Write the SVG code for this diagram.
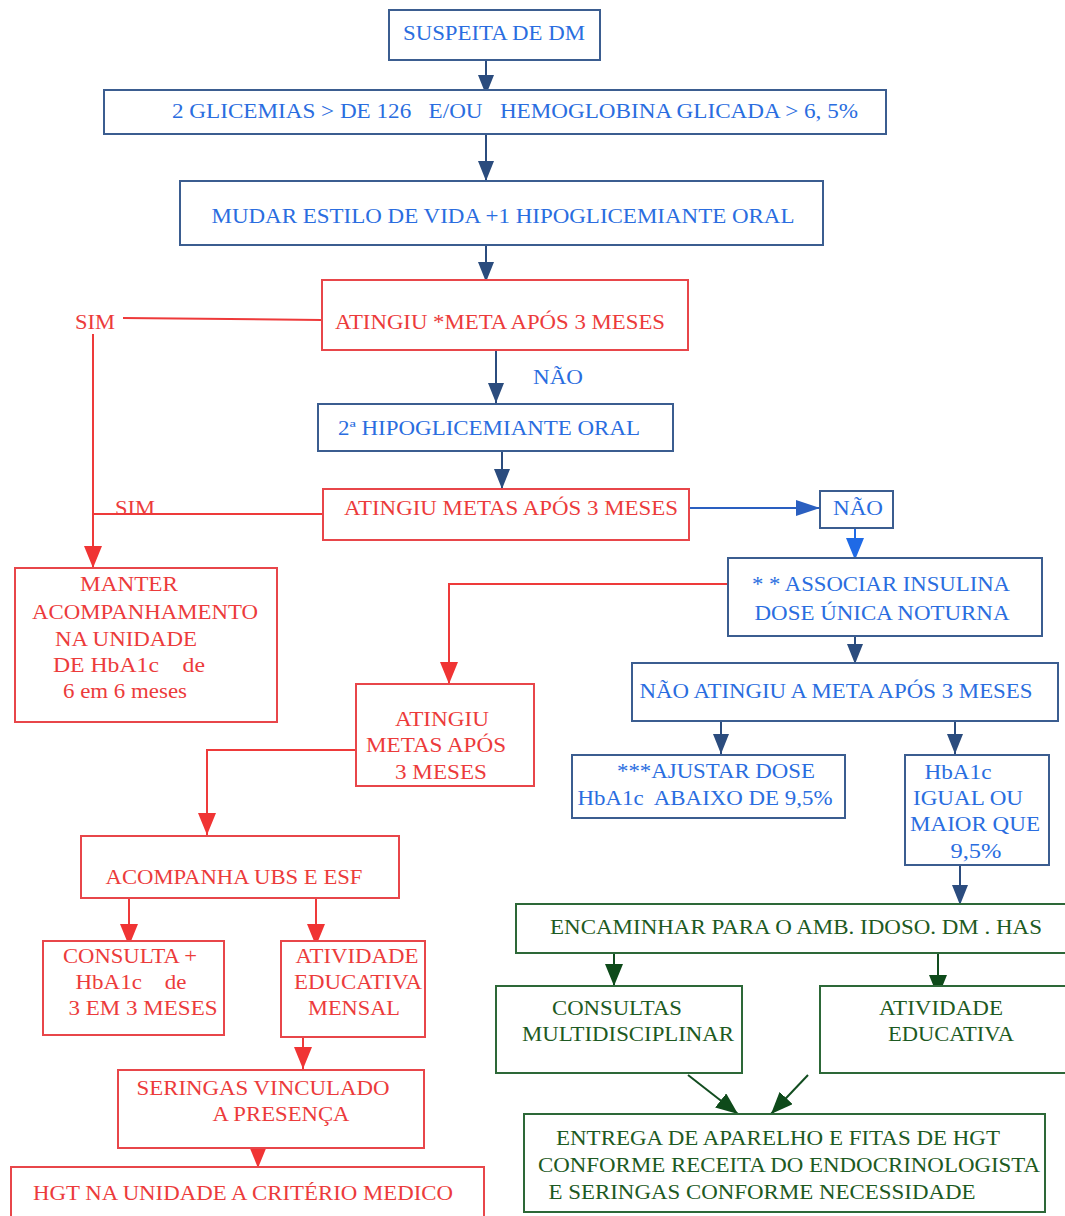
<svg xmlns="http://www.w3.org/2000/svg" width="1065" height="1216" viewBox="0 0 1065 1216">
<style>
text{font-family:'Liberation Serif','Times New Roman',Times,serif;font-size:20px;text-anchor:middle;white-space:pre}
.bt{fill:#2a6de0}
.rt{fill:#ec3b3b}
.gt{fill:#1d5a22}
.bb{fill:#fff;stroke:#3b5d90;stroke-width:2}
.rb{fill:#fff;stroke:#e8464a;stroke-width:2}
.gb{fill:#fff;stroke:#2d6838;stroke-width:2}
.cb{fill:none;stroke:#2b4c7e;stroke-width:2}
.cr{fill:none;stroke:#ee3a3a;stroke-width:2}
.cg{fill:none;stroke:#124d20;stroke-width:2}
.cl{fill:none;stroke:#1f6ae6;stroke-width:2}
</style>
<defs>
<marker id="aB" markerUnits="userSpaceOnUse" markerWidth="20" markerHeight="16" refX="20" refY="8" orient="auto"><path d="M0,0 L20,8 L0,16 Z" fill="#2b4c7e"/></marker>
<marker id="aR" markerUnits="userSpaceOnUse" markerWidth="22" markerHeight="18" refX="22" refY="9" orient="auto"><path d="M0,0 L22,9 L0,18 Z" fill="#f03434"/></marker>
<marker id="aG" markerUnits="userSpaceOnUse" markerWidth="22" markerHeight="18" refX="22" refY="9" orient="auto"><path d="M0,0 L22,9 L0,18 Z" fill="#0e4a1a"/></marker>
<marker id="aL" markerUnits="userSpaceOnUse" markerWidth="22" markerHeight="18" refX="22" refY="9" orient="auto"><path d="M0,0 L22,9 L0,18 Z" fill="#1f6ae6"/></marker>
<marker id="aM" markerUnits="userSpaceOnUse" markerWidth="24" markerHeight="16" refX="24" refY="8" orient="auto"><path d="M0,0 L24,8 L0,16 Z" fill="#2a5fc0"/></marker>
</defs>
<rect width="1065" height="1216" fill="#fff"/>

<g id="connectors">
<path class="cb" d="M486,60 V95" marker-end="url(#aB)"/>
<path class="cb" d="M486,134 V181" marker-end="url(#aB)"/>
<path class="cb" d="M486,245 V282" marker-end="url(#aB)"/>
<path class="cb" d="M496,350 V403" marker-end="url(#aB)"/>
<path class="cb" d="M502,451 V489" marker-end="url(#aB)"/>
<path class="cr" d="M123,318 L322,320"/>
<path class="cr" d="M93,334 V568" marker-end="url(#aR)"/>
<path class="cr" d="M323,514 H93"/>
<path fill="none" stroke="#2a5fc0" stroke-width="2" d="M689,508 H820" marker-end="url(#aM)"/>
<path class="cl" d="M855,528 V560" marker-end="url(#aL)"/>
<path class="cr" d="M728,584 H449 V684" marker-end="url(#aR)"/>
<path class="cb" d="M855,636 V664" marker-end="url(#aB)"/>
<path class="cb" d="M721,721 V754" marker-end="url(#aB)"/>
<path class="cb" d="M955,721 V754" marker-end="url(#aB)"/>
<path class="cb" d="M960,865 V905" marker-end="url(#aB)"/>
<path class="cr" d="M356,750 H207 V835" marker-end="url(#aR)"/>
<path class="cr" d="M129,898 V946" marker-end="url(#aR)"/>
<path class="cr" d="M316,898 V946" marker-end="url(#aR)"/>
<path class="cr" d="M303,1037 V1069" marker-end="url(#aR)"/>
<path class="cr" d="M258,1130 V1168" marker-end="url(#aR)"/>
<path class="cg" d="M614,953 V986" marker-end="url(#aG)"/>
<path class="cg" d="M938,953 V997" marker-end="url(#aG)"/>
<path class="cg" d="M688,1075 L738,1114" marker-end="url(#aG)"/>
<path class="cg" d="M808,1075 L771,1114" marker-end="url(#aG)"/>
</g>

<g id="suspeita"><rect class="bb" x="389" y="10" width="211" height="50"/><text class="bt" x="494" y="40" textLength="182" lengthAdjust="spacingAndGlyphs">SUSPEITA DE DM</text></g>
<g id="glicemias"><rect class="bb" x="104" y="90" width="782" height="44"/><text class="bt" x="515" y="118" textLength="686" lengthAdjust="spacingAndGlyphs">2 GLICEMIAS &gt; DE 126   E/OU   HEMOGLOBINA GLICADA &gt; 6, 5%</text></g>
<g id="mudar"><rect class="bb" x="180" y="181" width="643" height="64"/><text class="bt" x="503" y="223" textLength="583" lengthAdjust="spacingAndGlyphs">MUDAR ESTILO DE VIDA +1 HIPOGLICEMIANTE ORAL</text></g>
<g id="atingiu1"><rect class="rb" x="322" y="280" width="366" height="70"/><text class="rt" x="500" y="329" textLength="330" lengthAdjust="spacingAndGlyphs">ATINGIU *META APÓS 3 MESES</text></g>
<g id="sim1"><text class="rt" x="95" y="329" textLength="40" lengthAdjust="spacingAndGlyphs">SIM</text></g>
<g id="nao1"><text class="bt" x="558" y="384" textLength="50" lengthAdjust="spacingAndGlyphs">NÃO</text></g>
<g id="hipo2"><rect class="bb" x="318" y="404" width="355" height="47"/><text class="bt" x="489" y="435" textLength="302" lengthAdjust="spacingAndGlyphs">2ª HIPOGLICEMIANTE ORAL</text></g>
<g id="atingiu2"><rect class="rb" x="323" y="489" width="366" height="51"/><text class="rt" x="511" y="515" textLength="334" lengthAdjust="spacingAndGlyphs">ATINGIU METAS APÓS 3 MESES</text></g>
<g id="sim2"><text class="rt" x="135" y="515" textLength="40" lengthAdjust="spacingAndGlyphs">SIM</text></g>
<g id="nao2"><rect class="bb" x="820" y="491" width="73" height="37"/><text class="bt" x="858" y="515" textLength="50" lengthAdjust="spacingAndGlyphs">NÃO</text></g>
<g id="insulina"><rect class="bb" x="728" y="558" width="314" height="78"/><text class="bt" x="881" y="591" textLength="258" lengthAdjust="spacingAndGlyphs">* * ASSOCIAR INSULINA</text><text class="bt" x="882" y="620" textLength="255" lengthAdjust="spacingAndGlyphs">DOSE ÚNICA NOTURNA</text></g>
<g id="naoatingiu"><rect class="bb" x="632" y="663" width="426" height="58"/><text class="bt" x="836" y="698" textLength="393" lengthAdjust="spacingAndGlyphs">NÃO ATINGIU A META APÓS 3 MESES</text></g>
<g id="ajustar"><rect class="bb" x="572" y="755" width="273" height="63"/><text class="bt" x="716" y="778" textLength="198" lengthAdjust="spacingAndGlyphs">***AJUSTAR DOSE</text><text class="bt" x="705" y="805" textLength="255" lengthAdjust="spacingAndGlyphs">HbA1c  ABAIXO DE 9,5%</text></g>
<g id="hba1c"><rect class="bb" x="905" y="755" width="144" height="110"/><text class="bt" x="958" y="779" textLength="67" lengthAdjust="spacingAndGlyphs">HbA1c</text><text class="bt" x="968" y="805" textLength="110" lengthAdjust="spacingAndGlyphs">IGUAL OU</text><text class="bt" x="975" y="831" textLength="130" lengthAdjust="spacingAndGlyphs">MAIOR QUE</text><text class="bt" x="976" y="858" textLength="51" lengthAdjust="spacingAndGlyphs">9,5%</text></g>
<g id="manter"><rect class="rb" x="15" y="568" width="262" height="154"/><text class="rt" x="129" y="591" textLength="98" lengthAdjust="spacingAndGlyphs">MANTER</text><text class="rt" x="145" y="619" textLength="226" lengthAdjust="spacingAndGlyphs">ACOMPANHAMENTO</text><text class="rt" x="126" y="646" textLength="142" lengthAdjust="spacingAndGlyphs">NA UNIDADE</text><text class="rt" x="129" y="672" textLength="152" lengthAdjust="spacingAndGlyphs">DE HbA1c    de</text><text class="rt" x="125" y="698" textLength="124" lengthAdjust="spacingAndGlyphs">6 em 6 meses</text></g>
<g id="atingiu3"><rect class="rb" x="356" y="684" width="178" height="102"/><text class="rt" x="442" y="726" textLength="94" lengthAdjust="spacingAndGlyphs">ATINGIU</text><text class="rt" x="436" y="752" textLength="140" lengthAdjust="spacingAndGlyphs">METAS APÓS</text><text class="rt" x="441" y="779" textLength="92" lengthAdjust="spacingAndGlyphs">3 MESES</text></g>
<g id="acompanha"><rect class="rb" x="81" y="836" width="318" height="62"/><text class="rt" x="234" y="884" textLength="257" lengthAdjust="spacingAndGlyphs">ACOMPANHA UBS E ESF</text></g>
<g id="consulta"><rect class="rb" x="43" y="941" width="181" height="94"/><text class="rt" x="130" y="963" textLength="134" lengthAdjust="spacingAndGlyphs">CONSULTA +</text><text class="rt" x="131" y="989" textLength="111" lengthAdjust="spacingAndGlyphs">HbA1c    de</text><text class="rt" x="143" y="1015" textLength="149" lengthAdjust="spacingAndGlyphs">3 EM 3 MESES</text></g>
<g id="atividade1"><rect class="rb" x="281" y="941" width="144" height="96"/><text class="rt" x="357" y="963" textLength="123" lengthAdjust="spacingAndGlyphs">ATIVIDADE</text><text class="rt" x="358" y="989" textLength="128" lengthAdjust="spacingAndGlyphs">EDUCATIVA</text><text class="rt" x="354" y="1015" textLength="92" lengthAdjust="spacingAndGlyphs">MENSAL</text></g>
<g id="seringas"><rect class="rb" x="118" y="1070" width="306" height="78"/><text class="rt" x="263" y="1095" textLength="253" lengthAdjust="spacingAndGlyphs">SERINGAS VINCULADO</text><text class="rt" x="281" y="1121" textLength="137" lengthAdjust="spacingAndGlyphs">A PRESENÇA</text></g>
<g id="hgt"><rect class="rb" x="11" y="1167" width="473" height="60"/><text class="rt" x="243" y="1200" textLength="420" lengthAdjust="spacingAndGlyphs">HGT NA UNIDADE A CRITÉRIO MEDICO</text></g>
<g id="encaminhar"><rect class="gb" x="516" y="904" width="560" height="49"/><text class="gt" x="796" y="934" textLength="492" lengthAdjust="spacingAndGlyphs">ENCAMINHAR PARA O AMB. IDOSO. DM . HAS</text></g>
<g id="consultas"><rect class="gb" x="496" y="986" width="246" height="87"/><text class="gt" x="617" y="1015" textLength="130" lengthAdjust="spacingAndGlyphs">CONSULTAS</text><text class="gt" x="628" y="1041" textLength="212" lengthAdjust="spacingAndGlyphs">MULTIDISCIPLINAR</text></g>
<g id="atividade2"><rect class="gb" x="820" y="986" width="256" height="87"/><text class="gt" x="941" y="1015" textLength="124" lengthAdjust="spacingAndGlyphs">ATIVIDADE</text><text class="gt" x="951" y="1041" textLength="126" lengthAdjust="spacingAndGlyphs">EDUCATIVA</text></g>
<g id="entrega"><rect class="gb" x="524" y="1114" width="521" height="98"/><text class="gt" x="778" y="1145" textLength="444" lengthAdjust="spacingAndGlyphs">ENTREGA DE APARELHO E FITAS DE HGT</text><text class="gt" x="789" y="1172" textLength="502" lengthAdjust="spacingAndGlyphs">CONFORME RECEITA DO ENDOCRINOLOGISTA</text><text class="gt" x="762" y="1199" textLength="427" lengthAdjust="spacingAndGlyphs">E SERINGAS CONFORME NECESSIDADE</text></g>
</svg>
